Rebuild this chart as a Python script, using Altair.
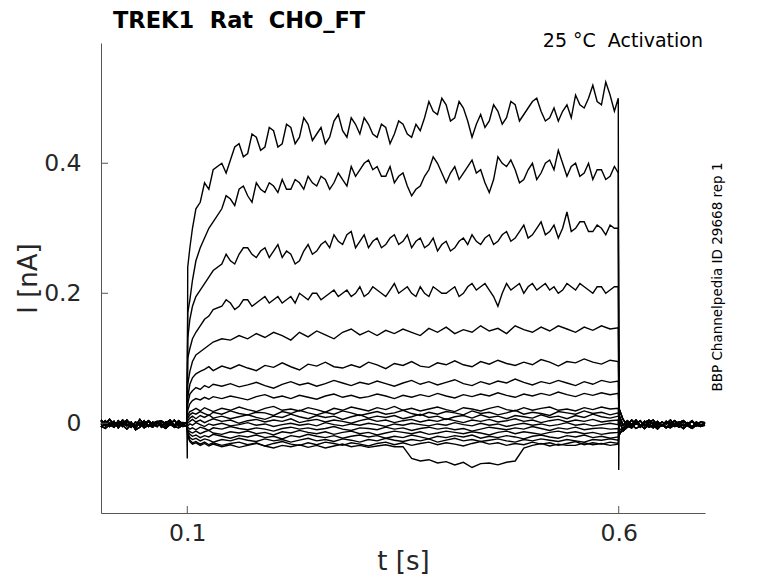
import pandas as pd
import altair as alt

# time points (s): holding before the step, the step itself, holding after
PRE_T = [0.0, 0.005, 0.01, 0.015, 0.02, 0.025, 0.03, 0.035, 0.04, 0.045, 0.05,
         0.055, 0.06, 0.065, 0.07, 0.075, 0.08, 0.085, 0.09, 0.095, 0.0995]
STEP_T = [0.1005, 0.103, 0.106, 0.11, 0.115, 0.12, 0.125, 0.13, 0.14,
          0.15, 0.16, 0.17, 0.18, 0.19, 0.20, 0.21, 0.22, 0.23, 0.24,
          0.25, 0.26, 0.27, 0.28, 0.29, 0.30, 0.31, 0.32, 0.33, 0.34,
          0.35, 0.36, 0.37, 0.38, 0.39, 0.40, 0.41, 0.42, 0.43, 0.44,
          0.45, 0.46, 0.47, 0.48, 0.49, 0.50, 0.51, 0.52, 0.53, 0.54,
          0.55, 0.56, 0.57, 0.58, 0.59, 0.5995]
# extra samples read in between for the four largest sweeps
MID_T = [0.145, 0.155, 0.165, 0.175, 0.185, 0.195, 0.205, 0.215, 0.225, 0.235,
         0.245, 0.255, 0.265, 0.275, 0.285, 0.295, 0.305, 0.315, 0.325, 0.335,
         0.345, 0.355, 0.365, 0.375, 0.385, 0.395, 0.405, 0.415, 0.425, 0.435,
         0.445, 0.455, 0.465, 0.475, 0.485, 0.495, 0.505, 0.515, 0.525, 0.535,
         0.545, 0.555, 0.565, 0.575, 0.585, 0.595]
POST_T = [0.6005, 0.605, 0.61, 0.615, 0.62, 0.625, 0.63, 0.635, 0.64, 0.645, 0.65,
          0.655, 0.66, 0.665, 0.67, 0.675, 0.68, 0.685, 0.69, 0.695, 0.70]

# holding current (nA)
pre_a = [-0.002, 0.004, -0.005, 0.001, -0.003, 0.005, -0.001, -0.006, 0.002, -0.003, 0.004, -0.004, 0.0, 0.003, -0.006, 0.002, -0.002, 0.005, -0.004, 0.001, -0.001]
pre_b = [0.003, -0.004, 0.001, -0.006, 0.004, -0.002, 0.005, -0.003, -0.007, 0.001, -0.004, 0.003, -0.005, 0.002, 0.004, -0.003, 0.001, -0.006, 0.003, -0.002, 0.002]
pre_c = [-0.006, 0.0, -0.003, 0.003, -0.007, 0.001, -0.004, 0.002, -0.01, -0.006, 0.001, -0.005, 0.002, -0.004, -0.001, -0.007, 0.002, -0.003, 0.0, -0.005, -0.003]
pre_d = [0.005, -0.001, 0.006, -0.002, 0.002, -0.005, 0.003, 0.0, -0.004, 0.006, -0.002, 0.004, -0.001, -0.005, 0.003, 0.0, 0.005, -0.003, 0.004, -0.001, 0.001]
pre_e = [-0.004, -0.008, -0.002, -0.006, 0.001, -0.003, -0.009, -0.002, -0.005, 0.0, -0.007, -0.003, -0.006, 0.001, -0.004, -0.008, -0.002, -0.005, -0.007, -0.003, -0.004]
post_a = [0.012, -0.003, 0.004, -0.002, 0.005, -0.003, 0.001, 0.005, -0.002, 0.003, -0.004, 0.002, 0.0, 0.004, -0.002, 0.003, -0.001, 0.004, -0.003, 0.002, 0.0]
post_b = [-0.018, -0.008, 0.0, -0.005, 0.002, -0.006, 0.003, -0.002, -0.007, 0.001, -0.004, 0.003, -0.005, 0.0, 0.002, -0.004, 0.001, -0.006, 0.002, -0.003, 0.001]
post_c = [0.022, 0.006, -0.003, 0.005, -0.001, 0.004, -0.004, 0.002, 0.005, -0.003, 0.002, -0.001, 0.005, -0.003, 0.001, 0.004, -0.002, 0.003, -0.004, 0.002, 0.001]
post_d = [-0.01, -0.009, -0.004, -0.007, 0.0, -0.003, -0.008, -0.002, 0.001, -0.006, -0.002, -0.007, -0.001, -0.005, -0.003, -0.008, -0.002, -0.006, -0.001, -0.004, -0.003]
post_e = [0.005, -0.012, -0.006, -0.002, -0.008, -0.004, -0.001, -0.006, -0.003, -0.009, -0.002, -0.005, -0.007, -0.002, -0.006, -0.001, -0.004, -0.008, -0.003, -0.005, -0.002]
PRE = [pre_a, pre_b, pre_c, pre_d, pre_e]
POST = [post_a, post_b, post_c, post_d, post_e]

# current during the step (nA), one list per sweep, largest first
sweep1 = [0.24, 0.27, 0.30, 0.33, 0.34, 0.37, 0.36, 0.39, 0.40,
          0.405, 0.43, 0.415, 0.44, 0.425, 0.45, 0.43, 0.455, 0.44, 0.46,
          0.445, 0.43, 0.465, 0.45, 0.47, 0.445, 0.46, 0.44, 0.455, 0.445,
          0.46, 0.44, 0.45, 0.495, 0.475, 0.49, 0.47, 0.485, 0.44, 0.475,
          0.465, 0.48, 0.47, 0.49, 0.475, 0.495, 0.48, 0.47, 0.465, 0.49,
          0.505, 0.485, 0.52, 0.49, 0.505, 0.50]
sweep2 = [0.17, 0.19, 0.22, 0.25, 0.27, 0.285, 0.30, 0.31, 0.33,
          0.345, 0.36, 0.35, 0.37, 0.355, 0.365, 0.375, 0.36, 0.37, 0.38,
          0.365, 0.375, 0.37, 0.375, 0.395, 0.39, 0.405, 0.395, 0.38, 0.37,
          0.385, 0.35, 0.365, 0.39, 0.40, 0.37, 0.395, 0.385, 0.405, 0.39,
          0.355, 0.41, 0.395, 0.39, 0.375, 0.40, 0.385, 0.405, 0.42, 0.38,
          0.40, 0.385, 0.375, 0.39, 0.38, 0.385]
sweep3 = [0.13, 0.16, 0.18, 0.195, 0.205, 0.215, 0.225, 0.235, 0.245,
          0.25, 0.26, 0.27, 0.255, 0.27, 0.265, 0.255, 0.26, 0.25, 0.275,
          0.265, 0.28, 0.29, 0.275, 0.295, 0.28, 0.27, 0.285, 0.275, 0.29,
          0.28, 0.27, 0.285, 0.275, 0.265, 0.28, 0.27, 0.285, 0.29, 0.275,
          0.29, 0.28, 0.295, 0.285, 0.305, 0.29, 0.31, 0.295, 0.285, 0.325,
          0.30, 0.31, 0.295, 0.30, 0.305, 0.30]
sweep4 = [0.10, 0.115, 0.13, 0.14, 0.15, 0.16, 0.165, 0.175, 0.18,
          0.185, 0.18, 0.19, 0.185, 0.195, 0.19, 0.185, 0.195, 0.20, 0.19,
          0.20, 0.195, 0.205, 0.20, 0.195, 0.21, 0.20, 0.205, 0.195, 0.215,
          0.205, 0.20, 0.21, 0.195, 0.205, 0.20, 0.21, 0.20, 0.215, 0.21,
          0.205, 0.18, 0.215, 0.21, 0.20, 0.215, 0.21, 0.205, 0.20, 0.215,
          0.205, 0.21, 0.20, 0.21, 0.205, 0.21]
sweep5 = [0.06, 0.08, 0.095, 0.105, 0.11, 0.115, 0.12, 0.125, 0.13,
          0.128, 0.135, 0.13, 0.138, 0.132, 0.14, 0.135, 0.128, 0.14, 0.133,
          0.142, 0.136, 0.13, 0.14, 0.145, 0.136, 0.142, 0.135, 0.143, 0.138,
          0.145, 0.14, 0.135, 0.146, 0.14, 0.148, 0.138, 0.144, 0.14, 0.15,
          0.142, 0.146, 0.138, 0.15, 0.144, 0.14, 0.148, 0.142, 0.15, 0.145,
          0.14, 0.148, 0.143, 0.15, 0.145, 0.147]
sweep6 = [0.04, 0.06, 0.07, 0.076, 0.08, 0.083, 0.087, 0.081, 0.088,
          0.084, 0.09, 0.085, 0.081, 0.089, 0.086, 0.093, 0.087, 0.082, 0.091,
          0.088, 0.094, 0.087, 0.085, 0.09, 0.086, 0.094, 0.09, 0.084, 0.092,
          0.089, 0.095, 0.088, 0.086, 0.093, 0.09, 0.096, 0.09, 0.087, 0.095,
          0.091, 0.097, 0.092, 0.089, 0.094, 0.09, 0.098, 0.094, 0.088, 0.095,
          0.093, 0.099, 0.094, 0.091, 0.097, 0.095]
sweep7 = [0.03, 0.045, 0.05, 0.055, 0.052, 0.058, 0.055, 0.06, 0.057,
          0.061, 0.056, 0.059, 0.063, 0.058, 0.054, 0.06, 0.064, 0.059, 0.062,
          0.057, 0.061, 0.066, 0.062, 0.058, 0.063, 0.06, 0.065, 0.061, 0.057,
          0.062, 0.066, 0.06, 0.064, 0.059, 0.063, 0.067, 0.061, 0.058, 0.064,
          0.06, 0.065, 0.062, 0.068, 0.063, 0.059, 0.064, 0.061, 0.066, 0.062,
          0.058, 0.064, 0.06, 0.066, 0.063, 0.065]
sweep8 = [0.02, 0.03, 0.035, 0.038, 0.036, 0.04, 0.037, 0.041, 0.038,
          0.042, 0.039, 0.036, 0.041, 0.044, 0.039, 0.042, 0.038, 0.043, 0.04,
          0.037, 0.042, 0.045, 0.04, 0.043, 0.039, 0.041, 0.045, 0.042, 0.038,
          0.043, 0.04, 0.044, 0.041, 0.046, 0.042, 0.039, 0.044, 0.041, 0.045,
          0.042, 0.047, 0.043, 0.04, 0.045, 0.042, 0.046, 0.043, 0.048, 0.044,
          0.041, 0.046, 0.043, 0.047, 0.044, 0.046]
sweep9 = [0.012, 0.018, 0.02, 0.023, 0.019, 0.024, 0.021, 0.018, 0.023,
          0.02, 0.025, 0.021, 0.018, 0.023, 0.026, 0.02, 0.022, 0.019, 0.024,
          0.021, 0.017, 0.023, 0.02, 0.025, 0.022, 0.019, 0.024, 0.021, 0.026,
          0.02, 0.023, 0.019, 0.022, 0.025, 0.021, 0.018, 0.024, 0.022, 0.019,
          0.023, 0.026, 0.021, 0.019, 0.024, 0.02, 0.023, 0.025, 0.02, 0.022,
          0.019, 0.024, 0.021, 0.025, 0.022, 0.023]
sweep10 = [0.008, 0.013, 0.016, 0.014, 0.018, 0.015, 0.012, 0.017, 0.014,
           0.019, 0.015, 0.013, 0.017, 0.016, 0.012, 0.018, 0.015, 0.02, 0.016,
           0.013, 0.017, 0.014, 0.019, 0.016, 0.012, 0.015, 0.018, 0.014, 0.016,
           0.02, 0.015, 0.012, 0.017, 0.014, 0.018, 0.016, 0.013, 0.019, 0.015,
           0.017, 0.013, 0.016, 0.02, 0.014, 0.017, 0.015, 0.012, 0.018, 0.016,
           0.014, 0.019, 0.015, 0.017, 0.013, 0.016]
sweep11 = [0.004, 0.008, 0.011, 0.007, 0.012, 0.009, 0.013, 0.008, 0.011,
           0.007, 0.01, 0.013, 0.009, 0.006, 0.011, 0.009, 0.014, 0.01, 0.007,
           0.012, 0.009, 0.011, 0.006, 0.01, 0.013, 0.008, 0.011, 0.009, 0.012,
           0.007, 0.01, 0.014, 0.009, 0.011, 0.006, 0.01, 0.012, 0.008, 0.013,
           0.009, 0.011, 0.007, 0.012, 0.01, 0.008, 0.013, 0.009, 0.011, 0.007,
           0.012, 0.009, 0.014, 0.01, 0.008, 0.011]
sweep12 = [0.0, 0.003, 0.006, 0.002, 0.005, 0.001, 0.004, 0.007, 0.003,
           0.005, 0.0, 0.004, 0.006, 0.002, 0.005, 0.003, 0.007, 0.001, 0.004,
           0.006, 0.002, 0.005, 0.003, 0.0, 0.004, 0.007, 0.003, 0.005, 0.001,
           0.004, 0.006, 0.002, 0.005, 0.003, 0.007, 0.004, 0.001, 0.005, 0.003,
           0.006, 0.002, 0.004, 0.007, 0.003, 0.005, 0.001, 0.004, 0.006, 0.002,
           0.005, 0.003, 0.006, 0.002, 0.004, 0.005]
sweep13 = [-0.004, -0.001, -0.003, 0.001, -0.002, -0.005, -0.001, -0.003, 0.0,
           -0.004, -0.002, 0.001, -0.003, -0.001, -0.005, -0.002, 0.0, -0.003, -0.001,
           -0.004, 0.001, -0.002, -0.004, -0.001, -0.003, 0.0, -0.002, -0.005, -0.001,
           -0.003, 0.0, -0.002, -0.004, -0.001, -0.003, 0.001, -0.002, -0.004, 0.0,
           -0.003, -0.001, -0.005, -0.002, 0.0, -0.003, -0.001, -0.004, -0.002, 0.001,
           -0.003, -0.001, -0.004, -0.002, 0.0, -0.002]
sweep14 = [-0.006, -0.009, -0.007, -0.01, -0.006, -0.008, -0.011, -0.007, -0.009,
           -0.005, -0.008, -0.01, -0.007, -0.009, -0.012, -0.008, -0.006, -0.009, -0.007,
           -0.01, -0.008, -0.005, -0.009, -0.011, -0.007, -0.008, -0.01, -0.006, -0.009,
           -0.007, -0.011, -0.008, -0.006, -0.009, -0.007, -0.01, -0.008, -0.012, -0.009,
           -0.006, -0.008, -0.01, -0.007, -0.009, -0.005, -0.008, -0.011, -0.007, -0.009,
           -0.006, -0.01, -0.008, -0.007, -0.009, -0.008]
sweep15 = [-0.01, -0.013, -0.015, -0.012, -0.016, -0.013, -0.011, -0.015, -0.017,
           -0.013, -0.015, -0.012, -0.016, -0.014, -0.018, -0.013, -0.015, -0.011, -0.014,
           -0.016, -0.013, -0.017, -0.014, -0.012, -0.016, -0.014, -0.018, -0.015, -0.012,
           -0.014, -0.016, -0.013, -0.017, -0.015, -0.012, -0.014, -0.016, -0.013, -0.015,
           -0.018, -0.014, -0.012, -0.016, -0.013, -0.015, -0.017, -0.014, -0.012, -0.015,
           -0.013, -0.016, -0.014, -0.017, -0.015, -0.014]
sweep16 = [-0.012, -0.017, -0.02, -0.018, -0.022, -0.019, -0.021, -0.017, -0.02,
           -0.023, -0.019, -0.021, -0.018, -0.022, -0.02, -0.024, -0.019, -0.021, -0.017,
           -0.02, -0.022, -0.019, -0.023, -0.02, -0.018, -0.021, -0.019, -0.023, -0.02,
           -0.022, -0.018, -0.021, -0.024, -0.02, -0.022, -0.019, -0.021, -0.018, -0.023,
           -0.02, -0.022, -0.019, -0.021, -0.024, -0.02, -0.018, -0.021, -0.023, -0.019,
           -0.021, -0.018, -0.022, -0.02, -0.023, -0.021]
sweep17 = [-0.015, -0.022, -0.025, -0.023, -0.027, -0.024, -0.026, -0.029, -0.025,
           -0.027, -0.023, -0.026, -0.028, -0.024, -0.027, -0.025, -0.029, -0.026, -0.023,
           -0.027, -0.025, -0.028, -0.024, -0.026, -0.029, -0.025, -0.027, -0.023, -0.026,
           -0.028, -0.025, -0.027, -0.024, -0.029, -0.026, -0.023, -0.027, -0.025, -0.028,
           -0.026, -0.024, -0.027, -0.029, -0.025, -0.027, -0.024, -0.026, -0.028, -0.025,
           -0.027, -0.029, -0.025, -0.026, -0.024, -0.026]
sweep18 = [-0.018, -0.026, -0.03, -0.028, -0.032, -0.029, -0.033, -0.03, -0.034,
           -0.031, -0.029, -0.033, -0.03, -0.035, -0.031, -0.028, -0.032, -0.034, -0.03,
           -0.033, -0.029, -0.031, -0.034, -0.03, -0.032, -0.035, -0.031, -0.029, -0.033,
           -0.03, -0.034, -0.031, -0.029, -0.033, -0.03, -0.032, -0.035, -0.031, -0.028,
           -0.032, -0.03, -0.034, -0.031, -0.033, -0.029, -0.032, -0.03, -0.034, -0.031,
           -0.028, -0.033, -0.03, -0.032, -0.029, -0.031]
sweep19 = [-0.02, -0.028, -0.032, -0.03, -0.034, -0.031, -0.035, -0.032, -0.036,
           -0.033, -0.037, -0.034, -0.031, -0.035, -0.038, -0.034, -0.036, -0.033, -0.037,
           -0.034, -0.038, -0.035, -0.032, -0.036, -0.034, -0.037, -0.035, -0.033, -0.036,
           -0.036, -0.054, -0.058, -0.056, -0.061, -0.059, -0.064, -0.06, -0.068, -0.062,
           -0.061, -0.064, -0.06, -0.058, -0.038, -0.034, -0.031, -0.035, -0.032, -0.034,
           -0.034, -0.03, -0.033, -0.031, -0.034, -0.032]
SWEEPS = [sweep1, sweep2, sweep3, sweep4, sweep5, sweep6, sweep7, sweep8, sweep9, sweep10,
          sweep11, sweep12, sweep13, sweep14, sweep15, sweep16, sweep17, sweep18, sweep19]

sweep1_mid = [0.385, 0.425, 0.41, 0.445, 0.42, 0.455, 0.425, 0.46, 0.43, 0.47,
              0.435, 0.455, 0.44, 0.475, 0.44, 0.46, 0.47, 0.445, 0.46, 0.43,
              0.465, 0.445, 0.46, 0.47, 0.48, 0.50, 0.465, 0.495, 0.465, 0.46,
              0.455, 0.49, 0.46, 0.495, 0.465, 0.485, 0.50, 0.465, 0.485, 0.48,
              0.47, 0.49, 0.50, 0.495, 0.525, 0.48]
sweep2_mid = [0.35, 0.335, 0.365, 0.34, 0.36, 0.37, 0.355, 0.36, 0.375, 0.36,
              0.37, 0.38, 0.36, 0.385, 0.365, 0.38, 0.40, 0.39, 0.38, 0.395,
              0.38, 0.365, 0.36, 0.38, 0.41, 0.385, 0.385, 0.375, 0.395, 0.385,
              0.37, 0.375, 0.40, 0.405, 0.37, 0.39, 0.375, 0.40, 0.39, 0.40,
              0.395, 0.38, 0.40, 0.39, 0.375, 0.395]
sweep3_mid = [0.26, 0.245, 0.27, 0.26, 0.265, 0.255, 0.275, 0.265, 0.245, 0.265,
              0.26, 0.275, 0.27, 0.28, 0.29, 0.27, 0.29, 0.28, 0.27, 0.285,
              0.275, 0.29, 0.28, 0.27, 0.285, 0.275, 0.265, 0.28, 0.275, 0.28,
              0.285, 0.275, 0.29, 0.28, 0.295, 0.285, 0.30, 0.29, 0.305, 0.30,
              0.295, 0.31, 0.295, 0.305, 0.29, 0.30]
sweep4_mid = [0.19, 0.175, 0.19, 0.18, 0.19, 0.185, 0.195, 0.19, 0.185, 0.195,
              0.20, 0.19, 0.20, 0.195, 0.205, 0.20, 0.195, 0.21, 0.20, 0.205,
              0.20, 0.21, 0.195, 0.20, 0.21, 0.20, 0.205, 0.195, 0.21, 0.205,
              0.215, 0.195, 0.20, 0.205, 0.215, 0.21, 0.205, 0.215, 0.21, 0.205,
              0.21, 0.215, 0.205, 0.21, 0.20, 0.21]
MIDS = [sweep1_mid, sweep2_mid, sweep3_mid, sweep4_mid]

# capacitive spikes at step on / step off
ON_SPIKE = -0.054
OFF_SPIKE = -0.072

X_TICKS = [0.1, 0.6]
Y_TICKS = [0, 0.2, 0.4]

rows = []
for k, sweep in enumerate(SWEEPS):
    times = PRE_T + STEP_T + POST_T
    vals = PRE[k % 5] + sweep + POST[k % 5]
    if k < len(MIDS):
        times = times + MID_T
        vals = vals + MIDS[k]
    if k == 0:
        times = times + [0.1, 0.6]
        vals = vals + [ON_SPIKE, OFF_SPIKE]
    for t, v in zip(times, vals):
        rows.append({"t": t, "I": v, "sweep": k})
df = pd.DataFrame(rows)

W, H = 604, 470
FONT = "DejaVu Sans"

x_scale = alt.Scale(domain=[0, 0.7], nice=False, zero=False)
y_scale = alt.Scale(domain=[-0.138, 0.585], nice=False, zero=False)

traces = alt.Chart(df).mark_line(color="black", strokeWidth=1.4).encode(
    x=alt.X("t:Q", scale=x_scale, title="t [s]",
            axis=alt.Axis(values=X_TICKS, format="~g", ticks=False, grid=False,
                          labelFontSize=23.5, titleFontSize=26, labelPadding=8, titlePadding=4)),
    y=alt.Y("I:Q", scale=y_scale, title="I [nA]",
            axis=alt.Axis(values=Y_TICKS, format="~g", ticks=False, grid=False,
                          labelFontSize=23.5, titleFontSize=26, labelPadding=20, titlePadding=2)),
    detail="sweep:N",
    order="t:Q",
)

# ticks point inwards
x_ticks = alt.Chart(pd.DataFrame({"t": X_TICKS})).mark_rule(color="#555555").encode(
    x="t:Q", y=alt.value(H), y2=alt.value(H - 7))
y_ticks = alt.Chart(pd.DataFrame({"I": Y_TICKS})).mark_rule(color="#555555").encode(
    y="I:Q", x=alt.value(0), x2=alt.value(7))

title = alt.Chart(pd.DataFrame({"s": ["TREK1 \u00a0Rat \u00a0CHO_FT"]})).mark_text(
    font=FONT, fontSize=22.5, fontWeight="bold", align="left", baseline="alphabetic", color="black"
).encode(text="s:N", x=alt.value(12), y=alt.value(-15))
cond = alt.Chart(pd.DataFrame({"s": ["25 °C \u00a0Activation"]})).mark_text(
    font=FONT, fontSize=19, align="right", baseline="alphabetic", color="black"
).encode(text="s:N", x=alt.value(602), y=alt.value(4))
source = alt.Chart(pd.DataFrame({"s": ["BBP Channelpedia ID 29668 rep 1"]})).mark_text(
    font=FONT, fontSize=13.5, angle=270, align="center", baseline="middle", color="black"
).encode(text="s:N", x=alt.value(617), y=alt.value(234))

chart = alt.layer(traces, x_ticks, y_ticks, title, cond, source).properties(
    width=W, height=H,
    autosize=alt.AutoSizeParams(type="none"),
    padding={"left": 93, "top": 35, "right": 65, "bottom": 62},
).configure_view(stroke=None).configure_axis(
    domainColor="#555555", labelColor="#262626", titleColor="#262626",
    labelFont=FONT, titleFont=FONT, titleFontWeight="normal",
)

chart.save("out.html", embed_options={"renderer": "svg", "actions": False})
